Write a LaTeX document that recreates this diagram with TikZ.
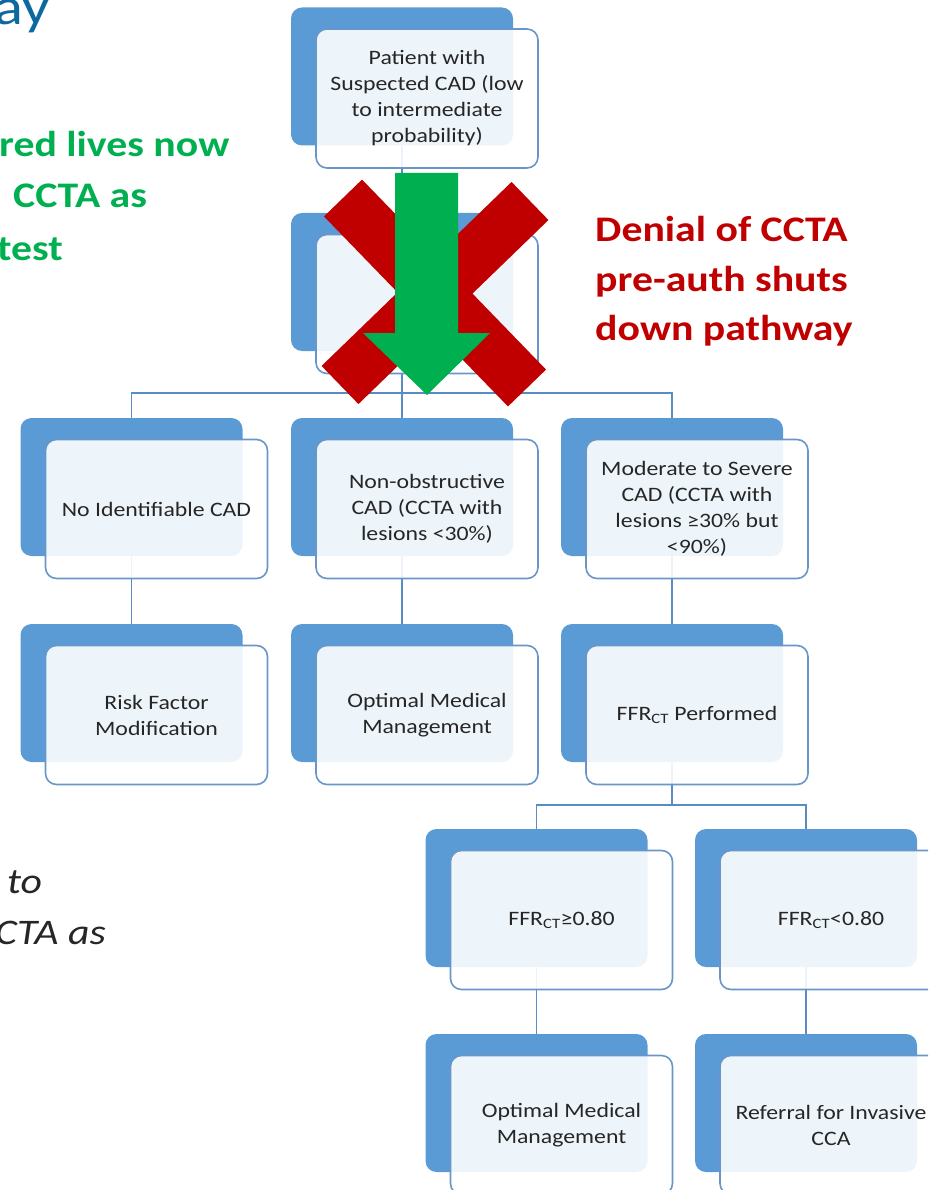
\documentclass[tikz,border=0pt]{standalone}
\usepackage{fontspec}
\setmainfont{Carlito}[FakeStretch=1.16]
\usepackage{tikz}
\usetikzlibrary{math}
\usetikzlibrary{calc}
\usetikzlibrary{backgrounds}

\definecolor{boxblue}{RGB}{91,155,213}
\definecolor{edgeblue}{RGB}{104,150,200}
\definecolor{linkblue}{RGB}{88,140,196}
\definecolor{crossred}{RGB}{192,0,0}
\definecolor{arrowgreen}{RGB}{0,176,80}
\definecolor{titleblue}{RGB}{14,104,160}
\definecolor{textgray}{RGB}{38,38,38}

\tikzset{
  backbox/.style={fill=boxblue, rounded corners=11pt, inner sep=0pt,
    minimum width=222pt, minimum height=138pt},
  frontbox/.style={draw=edgeblue, line width=1.6pt, fill=white, fill opacity=0.9,
    text opacity=1, rounded corners=11pt, minimum width=222pt, minimum height=139pt,
    align=center, text=textgray, font=\fontsize{20.5}{26}\selectfont},
  link/.style={draw=linkblue, line width=1.8pt},
  crossbar/.style={draw=crossred, line width=53pt},
  note/.style={anchor=base west, inner sep=0pt, font=\bfseries\fontsize{36}{50}\selectfont},
}

\begin{document}
\begin{tikzpicture}[x=1pt,y=-1pt]

  \tikzmath{
    \dx   = 25;    % shift of the blue back boxes
    \dy   = 22;
    \colL = 156.5; % columns of the front boxes
    \colM = 427;
    \colR = 697;
    \colP = 561.5;
    \colQ = 831;
    \rowA = 98.5;  % rows of the front boxes
    \rowB = 304;
    \rowC = 509;
    \rowD = 715;
    \rowE = 920;
    \rowF = 1125;
  }

  \useasboundingbox (0,0) rectangle (928,1190);
  \clip (0,0) rectangle (928,1190);

  % blue back boxes
  \node[backbox] (patientB) at ({\colM-\dx},{\rowA-\dy}) {};
  \node[backbox] (cctaB)    at ({\colM-\dx},{\rowB-\dy}) {};
  \node[backbox] (noneB)    at ({\colL-\dx},{\rowC-\dy}) {};
  \node[backbox] (nonobB)   at ({\colM-\dx},{\rowC-\dy}) {};
  \node[backbox] (severeB)  at ({\colR-\dx},{\rowC-\dy}) {};
  \node[backbox] (riskB)    at ({\colL-\dx},{\rowD-\dy}) {};
  \node[backbox] (omm1B)    at ({\colM-\dx},{\rowD-\dy}) {};
  \node[backbox] (ffrB)     at ({\colR-\dx},{\rowD-\dy}) {};
  \node[backbox] (highB)    at ({\colP-\dx},{\rowE-\dy}) {};
  \node[backbox] (lowB)     at ({\colQ-\dx},{\rowE-\dy}) {};
  \node[backbox] (omm2B)    at ({\colP-\dx},{\rowF-\dy}) {};
  \node[backbox] (ccaB)     at ({\colQ-\dx},{\rowF-\dy}) {};

  % white front boxes with the text
  \node[frontbox] (patient) at (\colM,\rowA)
    {Patient with\\Suspected CAD (low\\to intermediate\\probability)};
  \node[frontbox] (ccta)    at (\colM,\rowB) {};
  \node[frontbox] (none)    at (\colL,\rowC) {No Identifiable CAD};
  \node[frontbox] (nonob)   at (\colM,\rowC)
    {Non-obstructive\\CAD (CCTA with\\lesions <30\%)};
  \node[frontbox] (severe)  at (\colR,\rowC)
    {Moderate to Severe\\CAD (CCTA with\\lesions ≥30\% but\\<90\%)};
  \node[frontbox] (risk)    at (\colL,\rowD) {Risk Factor\\Modification};
  \node[frontbox] (omm1)    at (\colM,\rowD) {Optimal Medical\\Management};
  \node[frontbox] (ffr)     at (\colR,\rowD) {FFR\textsubscript{CT} Performed};
  \node[frontbox] (high)    at (\colP,\rowE) {FFR\textsubscript{CT}≥0.80};
  \node[frontbox] (low)     at (\colQ,\rowE) {FFR\textsubscript{CT}<0.80};
  \node[frontbox] (omm2)    at (\colP,\rowF) {Optimal Medical\\Management};
  \node[frontbox] (cca)     at (\colQ,\rowF) {Referral for Invasive\\CCA};

  % connectors behind the boxes
  \coordinate (busA) at ({\colM-\dx},393);
  \coordinate (busB) at ({\colR-\dx},805);
  \begin{pgfonlayer}{background}
    \draw[link] (patientB.south) -- (cctaB.north);
    \draw[link] (cctaB.south) -- (busA) -| (noneB.north);
    \draw[link] (busA) -| (severeB.north);
    \draw[link] (busA) -- (nonobB.north);
    \draw[link] (noneB.south) -- (riskB.north);
    \draw[link] (nonobB.south) -- (omm1B.north);
    \draw[link] (severeB.south) -- (ffrB.north);
    \draw[link] (ffrB.south) -- (busB) -| (highB.north);
    \draw[link] (busB) -| (lowB.north);
    \draw[link] (highB.south) -- (omm2B.north);
    \draw[link] (lowB.south) -- (ccaB.north);
  \end{pgfonlayer}

  % red cross over the second box
  \draw[crossbar] (343,198) -- (527,388);
  \draw[crossbar] (530,201) -- (340,385);

  % green arrow down through the cross
  \fill[arrowgreen] (395,173) -- (458,173) -- (458,333) -- (490,333)
    -- (427,395) -- (363,333) -- (395,333) -- cycle;

  % texts around the chart
  \node[anchor=base west, inner sep=0pt, text=titleblue,
    font=\fontsize{52}{60}\selectfont] (title) at (-6,25) {ay};

  \node[note, text=arrowgreen] (greenA) at (-1,157) {red lives now};
  \node[note, text=arrowgreen] (greenB) at (13,208) {CCTA as};
  \node[note, text=arrowgreen] (greenC) at (-3,260) {test};

  \node[note, text=crossred] (redA) at (595,242) {Denial of CCTA};
  \node[note, text=crossred] (redB) at (595,291) {pre-auth shuts};
  \node[note, text=crossred] (redC) at (595,340) {down pathway};

  \node[note, text=textgray, font=\itshape\fontsize{36}{50}\selectfont]
    (greyA) at (7,893) {to};
  \node[note, text=textgray, font=\itshape\fontsize{36}{50}\selectfont]
    (greyB) at (-5,944) {CTA as};

\end{tikzpicture}
\end{document}
